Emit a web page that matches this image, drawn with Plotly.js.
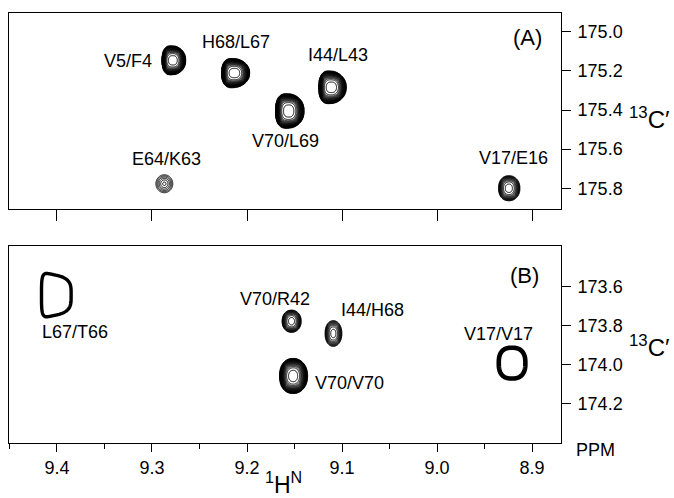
<!DOCTYPE html>
<html><head><meta charset="utf-8">
<script src="https://cdn.plot.ly/plotly-3.0.1.min.js"></script>
<style>html,body{margin:0;padding:0;background:#fff}</style>
</head><body>
<div id="chart" style="width:674px;height:498px"></div>
<script>
// ---------- Panel A cross peaks (1H ppm, 13C' ppm) ----------
const peaksA_names  = ['V5/F4','H68/L67','I44/L43','V70/L69','E64/K63','V17/E16'];
const peaksA_h      = [9.277, 9.212, 9.110, 9.155, 9.287, 8.924];
const peaksA_c      = [175.146, 175.211, 175.284, 175.405, 175.777, 175.800];
const peaksA_wh     = [0.0125, 0.0148, 0.0145, 0.0150, 0.0089, 0.0112];   // half line widths 1H
const peaksA_wc     = [0.073, 0.073, 0.082, 0.087, 0.046, 0.064];         // half line widths 13C'
const peaksA_levels = [20.4, 20.4, 20.4, 21.4, 5.4, 11.4];                // contour levels above floor

// ---------- Panel B cross peaks ----------
const peaksB_names  = ['V70/R42','I44/H68','V70/V70'];
const peaksB_h      = [9.153, 9.109, 9.151];
const peaksB_c      = [173.779, 173.842, 174.060];
const peaksB_wh     = [0.0100, 0.0088, 0.0147];
const peaksB_wc     = [0.057, 0.066, 0.090];
const peaksB_levels = [11.4, 9.4, 20.4];

// ---------- Panel B single-contour (folded) peaks ----------
const foldB_names = ['L67/T66','V17/V17'];
const foldB_h     = [9.4007, 8.921];
const foldB_c     = [173.645, 173.994];
const foldB_wh    = [0.0156, 0.0140];
const foldB_wc    = [0.102, 0.079];

// tick labels
const yTicksA = [175.0, 175.2, 175.4, 175.6, 175.8];
const yTicksB = [173.6, 173.8, 174.0, 174.2];
const xTicks  = [9.4, 9.3, 9.2, 9.1, 9.0, 8.9];

// peak shape parameters (left / right / vertical exponents, level crowding, taper)
const shapeA = {pl:[3.2,3.2,3.2,3.0,2,2.4], pr:[2,2,2,2,2,2], pv:[2.2,2.2,2.2,2.4,2,2.2],
                m:[3.2,3.2,3.2,3.2,1.6,2.8], tp:[0.08,0.1,0.1,0.08,0,0]};
const shapeB = {pl:[2.2,2.2,2.4], pr:[2,2,2], pv:[2.2,2.2,2.2], m:[2.8,2.6,3.2], tp:[0,0,0]};
const shapeF = {pl:[7,2.6], pr:[2.6,2.4], pv:[4,2.6], m:[2,2], tp:[0.16,0]};
const foldWidth = [3.4, 4.6];

function seq(a,b,s){const o=[];for(let v=a;v<=b+1e-9;v+=s)o.push(+v.toFixed(5));return o;}
const xs  = seq(8.866, 9.454, 0.0008);
const ysA = seq(174.90, 175.91, 0.004);
const ysB = seq(173.39, 174.41, 0.004);

function buildZ(xs, ys, H, C, WH, WC, N, S, idx){
  const z=[];
  const ks = idx || H.map((_,k)=>k);
  for(const y of ys){
    const row=new Array(xs.length);
    for(let i=0;i<xs.length;i++){
      let best=-1;
      for(const k of ks){
        const du=(xs[i]-H[k])/WH[k];
        const u=Math.abs(du); if(u>1.3) continue;
        const v=Math.abs((y-C[k])/(WC[k]*(1+S.tp[k]*du))); if(v>1.3) continue;
        const pu = du>0 ? S.pl[k] : S.pr[k];
        const f=Math.pow(u,pu)+Math.pow(v,S.pv[k]);
        const w=N[k]*(1-Math.pow(f,S.m[k]/2));
        if(w>best) best=w;
      }
      row[i]=Math.max(best,-1);
    }
    z.push(row);
  }
  return z;
}

const zA = buildZ(xs, ysA, peaksA_h, peaksA_c, peaksA_wh, peaksA_wc, peaksA_levels, shapeA);
const zB = buildZ(xs, ysB, peaksB_h, peaksB_c, peaksB_wh, peaksB_wc, peaksB_levels, shapeB);

const base = {type:'contour', x:xs, autocontour:false, showscale:false, hoverinfo:'skip',
  line:{color:'black', width:1, smoothing:0}};
const traces = [
  Object.assign({}, base, {y:ysA, z:zA, xaxis:'x', yaxis:'y',
    contours:{start:0, end:30, size:1, coloring:'none'}}),
  Object.assign({}, base, {y:ysB, z:zB, xaxis:'x2', yaxis:'y2',
    contours:{start:0, end:30, size:1, coloring:'none'}})
];
foldB_names.forEach((n,k)=>{
  const zF = buildZ(xs, ysB, foldB_h, foldB_c, foldB_wh, foldB_wc, foldB_names.map(()=>1), shapeF, [k]);
  traces.push(Object.assign({}, base, {y:ysB, z:zF, xaxis:'x2', yaxis:'y2', name:n,
    contours:{start:0, end:0.5, size:1, coloring:'none'},
    line:{color:'black', width:foldWidth[k], smoothing:0}}));
});

const FONT = 'Liberation Sans, Arial, Helvetica, sans-serif';
const axBase = {showline:true, mirror:true, linecolor:'black', linewidth:1, showgrid:false,
  zeroline:false, tickcolor:'black', tickwidth:1, ticks:'outside'};

// label anchor positions (1H, 13C')
const labA = {t:['V5/F4','H68/L67','I44/L43','V70/L69','E64/K63','V17/E16','(A)'],
  x:[9.3257, 9.2111, 9.1043, 9.159, 9.2845, 8.920, 8.9045],
  y:[175.149, 175.053, 175.12, 175.56, 175.651, 175.645, 175.030]};
const labB = {t:['L67/T66','V70/R42','I44/H68','V17/V17','V70/V70','(B)'],
  x:[9.381, 9.1704, 9.068, 8.9354, 9.0924, 8.9077],
  y:[173.835, 173.666, 173.723, 173.847, 174.098, 173.546]};

const ann = [];
const mk = (o)=>Object.assign({showarrow:false, xanchor:'center', yanchor:'middle'}, o);
labA.t.forEach((t,i)=>ann.push(mk({text:t, x:labA.x[i], y:labA.y[i], xref:'x', yref:'y',
  font:{size: t.startsWith('(')?22:18, family:FONT, color:'black'}})));
labB.t.forEach((t,i)=>ann.push(mk({text:t, x:labB.x[i], y:labB.y[i], xref:'x2', yref:'y2',
  font:{size: t.startsWith('(')?22:18, family:FONT, color:'black'}})));
ann.push(mk({text:'<sup>13</sup>C′', xref:'paper', yref:'paper', x:1.161, y:0.756,
  font:{size:24, family:FONT, color:'black'}}));
ann.push(mk({text:'<sup>13</sup>C′', xref:'paper', yref:'paper', x:1.161, y:0.226,
  font:{size:24, family:FONT, color:'black'}}));
ann.push(mk({text:'PPM', xref:'paper', yref:'paper', x:1.0634, y:-0.016,
  font:{size:18, family:FONT, color:'black'}}));
ann.push(mk({text:'<sup>1</sup>H<sup>N</sup>', xref:'paper', yref:'paper', x:0.498, y:-0.094,
  font:{size:23, family:FONT, color:'black'}}));

const layout = {
  width:674, height:498,
  margin:{l:9, r:113, t:13, b:55},
  paper_bgcolor:'white', plot_bgcolor:'white', showlegend:false,
  font:{family:FONT, size:18, color:'black'},
  xaxis: Object.assign({}, axBase, {domain:[0,1], anchor:'y', range:[9.4505, 8.8695],
    tickvals:xTicks, ticklen:11, showticklabels:false}),
  yaxis: Object.assign({}, axBase, {domain:[0.5442,1], anchor:'x', side:'right', range:[175.906,174.904],
    tickvals:yTicksA, ticktext:yTicksA.map(v=>v.toFixed(1)), ticklen:9, ticklabelstandoff:3}),
  xaxis2: Object.assign({}, axBase, {domain:[0,1], anchor:'y2', range:[9.4505, 8.8695],
    tickvals:xTicks, ticktext:xTicks.map(v=>v.toFixed(1)), ticklen:8,
    minor:{dtick:0.05, tick0:9.0, ticks:'outside', ticklen:5, tickcolor:'black', showgrid:false}}),
  yaxis2: Object.assign({}, axBase, {domain:[0,0.4581], anchor:'x2', side:'right', range:[174.404,173.393],
    tickvals:yTicksB, ticktext:yTicksB.map(v=>v.toFixed(1)), ticklen:9, ticklabelstandoff:3}),
  annotations: ann
};

Plotly.newPlot('chart', traces, layout, {staticPlot:true, displayModeBar:false});
</script>
</body></html>
